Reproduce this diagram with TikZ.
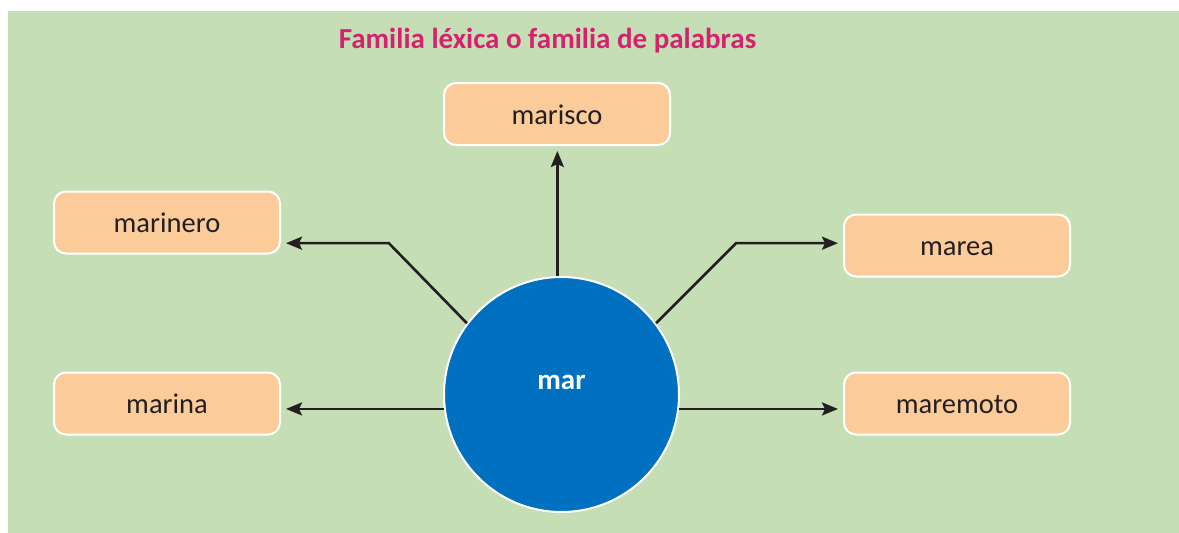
\documentclass[tikz,border=0pt]{standalone}
\usepackage{fontspec}
\setmainfont{Carlito}
\usepackage{tikz}
\usetikzlibrary{arrows.meta}
\definecolor{fondo}{RGB}{197,222,181}
\definecolor{caja}{RGB}{251,204,154}
\definecolor{azul}{RGB}{0,112,192}
\definecolor{rosa}{RGB}{212,34,110}
\definecolor{tinta}{RGB}{35,31,32}
\begin{document}
\begin{tikzpicture}[x=1pt,y=-1pt,
  wordbox/.style={draw=white,line width=2pt,fill=caja,rounded corners=12pt,minimum width=226pt,
    minimum height=62pt,inner sep=0pt,text height=20pt,text depth=0pt,text=tinta,font=\fontsize{28.5}{30}\selectfont},
  hub/.style={circle,draw=white,line width=2pt,fill=azul,minimum size=235pt,inner sep=0pt},
  arr/.style={draw=tinta,line width=2.6pt,-{Stealth[length=16pt,width=13pt,inset=3pt]},shorten >=5pt}]
\useasboundingbox (0,0) rectangle (1179,533);
\fill[fondo] (8,11) rectangle (1179,533);
\node[anchor=base,text=rosa,font=\fontsize{29}{31}\selectfont\bfseries] (heading) at (547.5,48)
  {Familia léxica o familia de palabras};
\foreach \n/\x/\y in {marisco/557/114, marinero/167/222.5, marea/957/245.5, marina/167/403.5, maremoto/957/403.5}
  \node[wordbox] (\n) at (\x,\y) {\n};
\node[hub] (mar) at (561.5,394.5) {};
\node[anchor=base,text=white,font=\fontsize{29}{31}\selectfont\bfseries] (marword) at ([yshift=5.5pt]mar.center) {mar};
\path (mar.143) ++(-78,-80) coordinate (bendl);
\path (mar.37) ++(80,-80) coordinate (bendr);
\draw[arr] (mar.92.4) -- (mar.92.4 |- marisco.south);
\draw[arr] (mar.143) -- (bendl) -- (bendl -| marinero.east);
\draw[arr] (mar.37) -- (bendr) -- (bendr -| marea.west);
\draw[arr] (mar.-7.6) -- (mar.-7.6 -| maremoto.west);
\draw[arr] (mar.187.6) -- (mar.187.6 -| marina.east);
\end{tikzpicture}
\end{document}
